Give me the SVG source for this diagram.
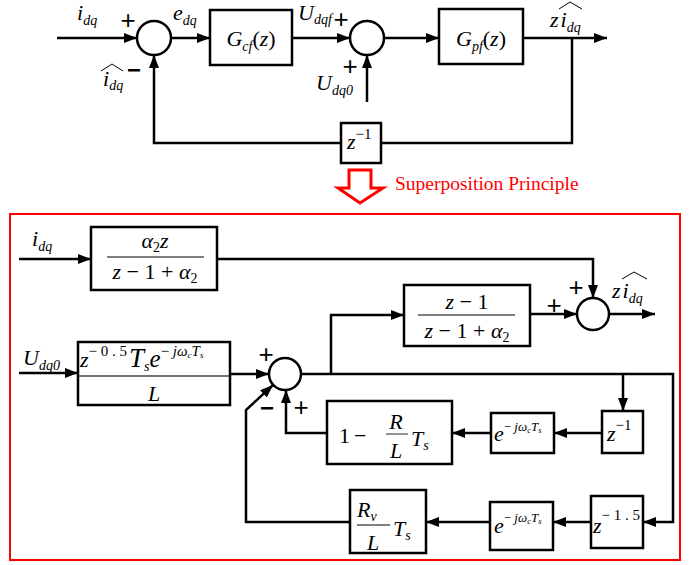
<svg xmlns="http://www.w3.org/2000/svg" width="690" height="565" viewBox="0 0 690 565">
<defs>
<style>
.b{fill:#fff;stroke:#000;stroke-width:2.5}
.c{fill:#fff;stroke:#000;stroke-width:2.5}
.ln{fill:none;stroke:#000;stroke-width:2.5}
.m{font-family:"Liberation Serif","Times New Roman",serif;font-style:italic;font-size:22px;fill:#000}
.r{font-style:normal}
.sub{font-size:14px}
.sup{font-size:15px;font-style:normal}
.pl{font-family:"Liberation Sans",Arial,sans-serif;font-size:26px;fill:#000}
.mi{font-family:"Liberation Sans",Arial,sans-serif;font-size:24px;font-weight:bold;fill:#000}
.hat{fill:none;stroke:#000;stroke-width:1}
.fr{stroke:#555;stroke-width:1.3}
.es{font-size:13px}
.ess{font-size:8.5px}
</style>
<marker id="a" markerUnits="userSpaceOnUse" markerWidth="13" markerHeight="10" refX="13" refY="5" orient="auto">
<path d="M0,0 L13,5 L0,10 z" fill="#000"/>
</marker>
</defs>
<rect width="690" height="565" fill="#fff"/>

<g id="connectors">
<path class="ln" d="M57,38 H137" marker-end="url(#a)"/>
<path class="ln" d="M171,38 H210" marker-end="url(#a)"/>
<path class="ln" d="M292,38 H350" marker-end="url(#a)"/>
<path class="ln" d="M384,38 H439" marker-end="url(#a)"/>
<path class="ln" d="M523,38 H607" marker-end="url(#a)"/>
<path class="ln" d="M572,38 V143 H381"/>
<path class="ln" d="M341,143 H154 V55" marker-end="url(#a)"/>
<path class="ln" d="M367,102 V55" marker-end="url(#a)"/>

<path class="ln" d="M19,259 H91" marker-end="url(#a)"/>
<path class="ln" d="M217,259 H593 V298" marker-end="url(#a)"/>
<path class="ln" d="M19,373 H78" marker-end="url(#a)"/>
<path class="ln" d="M230,374 H269" marker-end="url(#a)"/>
<path class="ln" d="M301,374 H673 V522 H643" marker-end="url(#a)"/>
<path class="ln" d="M331,374 V315 H404" marker-end="url(#a)"/>
<path class="ln" d="M530,314 H577" marker-end="url(#a)"/>
<path class="ln" d="M609,314 H655" marker-end="url(#a)"/>
<path class="ln" d="M623,374 V411" marker-end="url(#a)"/>
<path class="ln" d="M602,433 H554" marker-end="url(#a)"/>
<path class="ln" d="M491,433 H452" marker-end="url(#a)"/>
<path class="ln" d="M327,433 H286 V390" marker-end="url(#a)"/>
<path class="ln" d="M350,522 H246 V410 L273,385" marker-end="url(#a)"/>
<path class="ln" d="M591,522 H553" marker-end="url(#a)"/>
<path class="ln" d="M490,522 H426" marker-end="url(#a)"/>
</g>

<g id="labels-top">
<text class="m" x="77" y="20" font-size="21">i<tspan class="sub" dy="5">dq</tspan></text>
<text class="pl" x="128" y="29" text-anchor="middle">+</text>
<text class="m" x="173" y="20" font-size="21">e<tspan class="sub" dy="5">dq</tspan></text>
<polyline class="hat" points="101,71 112,64 123,71"/>
<text class="m" x="103" y="86">i<tspan class="sub" dy="4">dq</tspan></text>
<text class="mi" x="134" y="78" text-anchor="middle">−</text>
<text class="m" x="298" y="20" font-size="20">U<tspan class="sub" dy="4">dqf</tspan></text>
<text class="pl" x="341" y="28" text-anchor="middle">+</text>
<text class="pl" x="350" y="75" text-anchor="middle">+</text>
<text class="m" x="316" y="90">U<tspan class="sub" dy="5">dq0</tspan></text>
<polyline class="hat" points="559,9 570,2 582,9"/>
<text class="m" x="550" y="27">z<tspan dx="2">i</tspan><tspan class="sub" dy="5">dq</tspan></text>
</g>

<g id="sum1"><circle class="c" cx="154" cy="38" r="17"/></g>
<g id="sum2"><circle class="c" cx="367" cy="38" r="17"/></g>
<g id="Gcf">
<rect class="b" x="210" y="10" width="82" height="55"/>
<text class="m" x="251" y="46" text-anchor="middle" font-size="24">G<tspan class="sub" dy="5">cf</tspan><tspan class="r" dy="-5">(</tspan>z<tspan class="r">)</tspan></text>
</g>
<g id="Gpf">
<rect class="b" x="439" y="9" width="84" height="55"/>
<text class="m" x="481" y="46" text-anchor="middle" font-size="24">G<tspan class="sub" dy="5">pf</tspan><tspan class="r" dy="-5">(</tspan>z<tspan class="r">)</tspan></text>
</g>
<g id="zinv-top">
<rect class="b" x="341" y="123" width="40" height="40"/>
<text class="m" x="347" y="149">z<tspan class="sup" dy="-10">−1</tspan></text>
</g>

<g id="superposition">
<polygon points="349,170 371,170 371,188 383,188 360,203 338,188 349,188" fill="#fff" stroke="#f00" stroke-width="3"/>
<text x="395" y="190" font-family="Liberation Serif,Times New Roman,serif" font-size="19.5" fill="#f00">Superposition Principle</text>
</g>

<rect x="10" y="214" width="670" height="346" fill="none" stroke="#f00" stroke-width="2"/>

<g id="labels-bottom">
<text class="m" x="32" y="246">i<tspan class="sub" dy="5">dq</tspan></text>
<text class="m" x="23" y="365">U<tspan class="sub" dy="5">dq0</tspan></text>
<text class="pl" x="576" y="296" text-anchor="middle">+</text>
<text class="pl" x="554" y="314" text-anchor="middle">+</text>
<polyline class="hat" points="622,279 634,272 647,279"/>
<text class="m" x="612" y="298">z<tspan dx="2">i</tspan><tspan class="sub" dy="5">dq</tspan></text>
<text class="pl" x="266" y="363" text-anchor="middle">+</text>
<text class="pl" x="301" y="416" text-anchor="middle">+</text>
<text class="mi" x="267" y="416" text-anchor="middle">−</text>
</g>

<g id="F1">
<rect class="b" x="91" y="227" width="126" height="63"/>
<text class="m" x="155" y="248" text-anchor="middle">α<tspan class="sub" dy="4" font-style="normal">2</tspan><tspan dy="-4">z</tspan></text>
<line class="fr" x1="107" y1="257" x2="204" y2="257"/>
<text class="m" x="155" y="279" text-anchor="middle" font-size="23">z <tspan class="r">− 1 + </tspan>α<tspan class="sub" dy="4" font-style="normal">2</tspan></text>
</g>

<g id="F2">
<rect class="b" x="404" y="285" width="126" height="61"/>
<text class="m" x="467" y="309" text-anchor="middle" font-size="23">z <tspan class="r">− 1</tspan></text>
<line class="fr" x1="418" y1="315" x2="515" y2="315"/>
<text class="m" x="467" y="338" text-anchor="middle" font-size="23">z <tspan class="r">− 1 + </tspan>α<tspan class="sub" dy="4" font-style="normal">2</tspan></text>
</g>

<g id="sum3"><circle class="c" cx="593" cy="314" r="16"/></g>
<g id="sum4"><circle class="c" cx="285" cy="374" r="16"/></g>

<g id="F3">
<rect class="b" x="78" y="342" width="152" height="63"/>
<text class="m" x="80" y="367" font-size="24">z<tspan class="sup" font-size="16" dy="-11">− 0 . 5</tspan><tspan font-size="27" dy="11" dx="2">T</tspan><tspan class="sub" dy="4">s</tspan><tspan font-size="25" dy="-4">e</tspan><tspan font-size="15" dy="-11"><tspan font-style="normal">− </tspan>jω</tspan><tspan font-size="9" dy="2">c</tspan><tspan font-size="15" dy="-2">T</tspan><tspan font-size="9" dy="2">s</tspan></text>
<line x1="79" y1="376" x2="229" y2="376" stroke="#444" stroke-width="1.5"/>
<text class="m" x="154" y="401" text-anchor="middle" font-size="25">L</text>
</g>

<g id="F4">
<rect class="b" x="327" y="401" width="125" height="63"/>
<text class="m r" x="339" y="443" font-size="24" font-style="normal">1</text>
<text class="m r" x="354" y="443" font-size="24" font-style="normal">−</text>
<text class="m" x="396" y="429" text-anchor="middle" font-size="22">R</text>
<line class="fr" x1="386" y1="434" x2="408" y2="434"/>
<text class="m" x="396" y="458" text-anchor="middle" font-size="22">L</text>
<text class="m" x="411" y="446" font-size="25">T<tspan class="sub" dy="4">s</tspan></text>
</g>

<g id="E1">
<rect class="b" x="491" y="413" width="63" height="40"/>
<text class="m" x="494" y="441" font-size="22">e<tspan class="es" dy="-10"><tspan font-style="normal">− </tspan>jω</tspan><tspan class="ess" dy="2">c</tspan><tspan class="es" dy="-2">T</tspan><tspan class="ess" dy="2">s</tspan></text>
</g>

<g id="Z1">
<rect class="b" x="602" y="411" width="41" height="42"/>
<text class="m" x="607" y="441">z<tspan class="sup" dy="-11">−1</tspan></text>
</g>

<g id="F5">
<rect class="b" x="350" y="490" width="76" height="63"/>
<text class="m" x="357" y="517" font-size="23">R<tspan class="sub" dy="4">v</tspan></text>
<line class="fr" x1="357" y1="525" x2="390" y2="525"/>
<text class="m" x="373" y="550" text-anchor="middle" font-size="23">L</text>
<text class="m" x="393" y="536" font-size="25">T<tspan class="sub" dy="4">s</tspan></text>
</g>

<g id="E2">
<rect class="b" x="490" y="502" width="63" height="48"/>
<text class="m" x="494" y="533" font-size="23">e<tspan class="es" dy="-11"><tspan font-style="normal">− </tspan>jω</tspan><tspan class="ess" dy="2">c</tspan><tspan class="es" dy="-2">T</tspan><tspan class="ess" dy="2">s</tspan></text>
</g>

<g id="Z15">
<rect class="b" x="591" y="496" width="52" height="52"/>
<text class="m" x="593" y="533" font-size="23">z<tspan class="sup" font-size="15" dy="-13">− 1 . 5</tspan></text>
</g>
</svg>
